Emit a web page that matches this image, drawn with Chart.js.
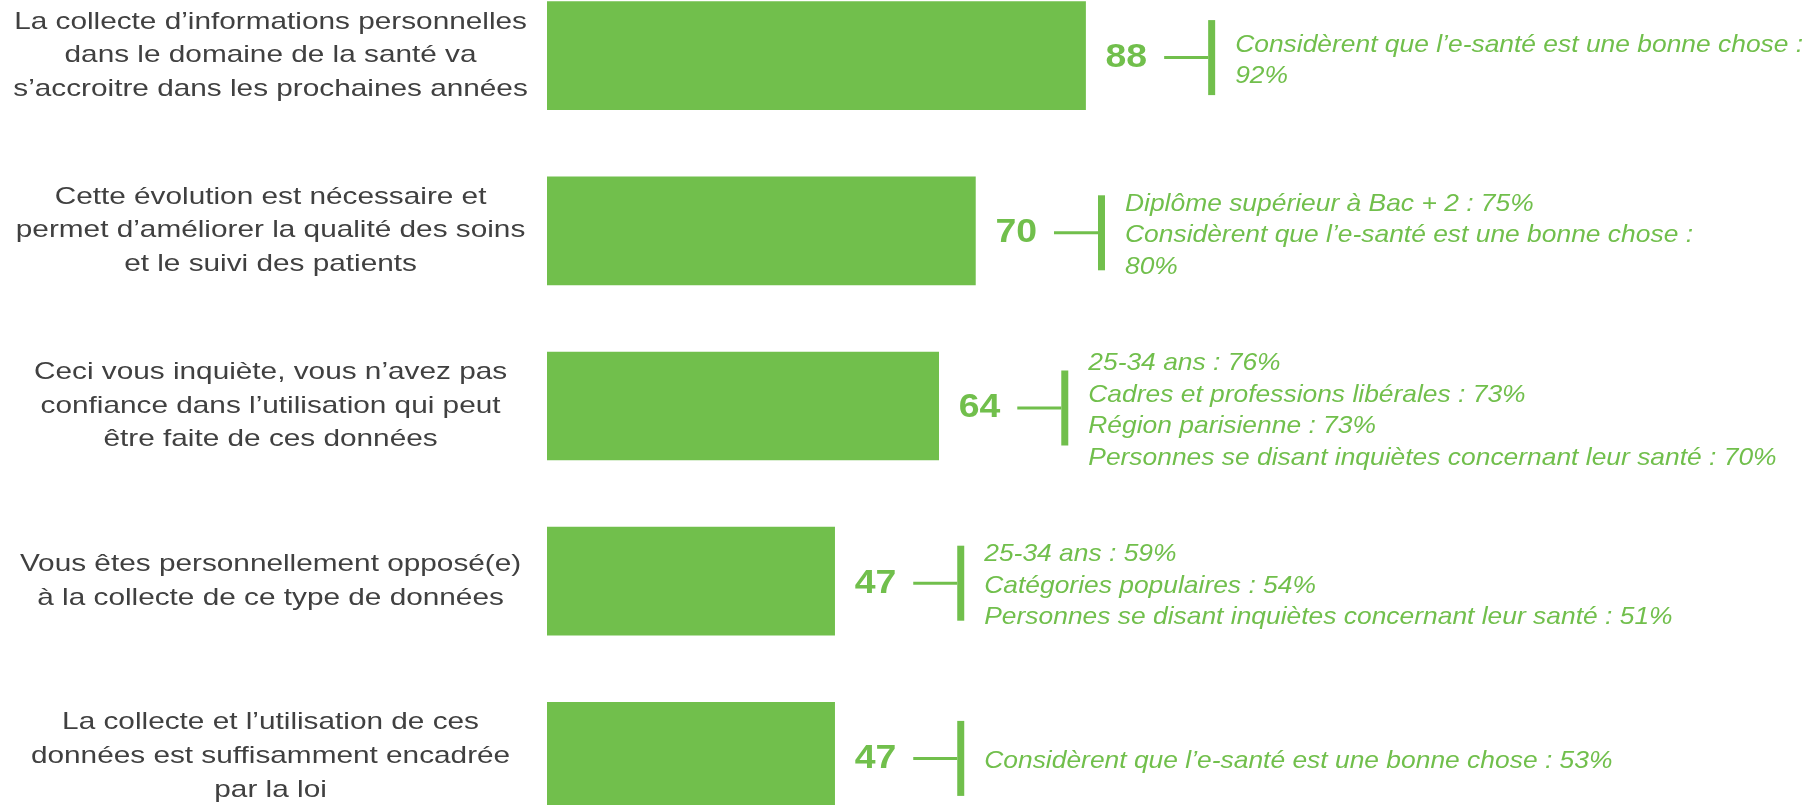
<!DOCTYPE html>
<html lang="fr">
<head>
<meta charset="utf-8">
<script src="https://cdn.jsdelivr.net/npm/chart.js@4.4.1/dist/chart.umd.min.js"></script>
<style>
  html, body { margin: 0; padding: 0; background: #ffffff; overflow: hidden; }
  body { width: 1812px; height: 805px; position: relative; }
  #wrap { position: absolute; left: 0; top: -32px; width: 1812px; height: 876px; }
</style>
</head>
<body>
<div id="wrap"><canvas id="c"></canvas></div>
<script>
const categories = [
  ["La collecte d’informations personnelles", "dans le domaine de la santé va", "s’accroitre dans les prochaines années"],
  ["Cette évolution est nécessaire et", "permet d’améliorer la qualité des soins", "et le suivi des patients"],
  ["Ceci vous inquiète, vous n’avez pas", "confiance dans l’utilisation qui peut", "être faite de ces données"],
  ["Vous êtes personnellement opposé(e)", "à la collecte de ce type de données"],
  ["La collecte et l’utilisation de ces", "données est suffisamment encadrée", "par la loi"]
];
const values = [88, 70, 64, 47, 47];
const details = [
  ["Considèrent que l’e-santé est une bonne chose :", "92%"],
  ["Diplôme supérieur à Bac + 2 : 75%", "Considèrent que l’e-santé est une bonne chose :", "80%"],
  ["25-34 ans : 76%", "Cadres et professions libérales : 73%", "Région parisienne : 73%", "Personnes se disant inquiètes concernant leur santé : 70%"],
  ["25-34 ans : 59%", "Catégories populaires : 54%", "Personnes se disant inquiètes concernant leur santé : 51%"],
  ["Considèrent que l’e-santé est une bonne chose : 53%"]
];

const GREEN = '#71BF4C';
const GRAY = '#404040';
const FONT = '"Liberation Sans", Arial, sans-serif';
const LABEL_STRETCH = 1.24;   // reference text is horizontally wide
const NOTE_STRETCH = 1.1;

function stretchedText(ctx, text, x, y, sx) {
  ctx.save();
  ctx.translate(x, y);
  ctx.scale(sx, 1);
  ctx.fillText(text, 0, 0);
  ctx.restore();
}

const annotate = {
  id: 'annotate',
  afterDatasetsDraw(chart) {
    const ctx = chart.ctx;
    const meta = chart.getDatasetMeta(0);
    ctx.save();
    meta.data.forEach((bar, i) => {
      const x = bar.x, y = bar.y;
      ctx.fillStyle = GREEN;
      ctx.textAlign = 'left';
      ctx.textBaseline = 'middle';
      // value label
      ctx.font = 'bold 34px ' + FONT;
      const label = String(values[i]);
      const nx = x + 20;
      stretchedText(ctx, label, nx, y + 2, NOTE_STRETCH);
      const w = ctx.measureText(label).width * NOTE_STRETCH;
      // connector
      const gy = y + 2;
      const lx0 = nx + w + 17, lx1 = lx0 + 44;
      ctx.strokeStyle = GREEN;
      ctx.lineWidth = 3;
      ctx.beginPath();
      ctx.moveTo(lx0, gy);
      ctx.lineTo(lx1, gy);
      ctx.stroke();
      // bracket
      ctx.fillRect(lx1, gy - 37.5, 7, 75);
      // detail text
      const lines = details[i];
      const lh = 31.5;
      ctx.font = 'italic 24px ' + FONT;
      const tx = lx1 + 7 + 20;
      const startY = y + 5 - (lines.length - 1) * lh / 2;
      lines.forEach((t, k) => stretchedText(ctx, t, tx, startY + k * lh, NOTE_STRETCH));
    });
    ctx.restore();
  }
};

const chart = new Chart(document.getElementById('c'), {
  type: 'bar',
  data: {
    labels: categories,
    datasets: [{
      data: values,
      backgroundColor: GREEN,
      borderWidth: 0,
      barThickness: 108
    }]
  },
  options: {
    indexAxis: 'y',
    responsive: true,
    maintainAspectRatio: false,
    animation: false,
    layout: { padding: { left: 0, right: 653, top: 0, bottom: 0 } },
    plugins: { legend: { display: false }, tooltip: { enabled: false } },
    scales: {
      x: { min: 0, max: 100, display: false },
      y: {
        grid: { display: false, drawTicks: false },
        border: { display: false },
        ticks: {
          autoSkip: false,
          crossAlign: 'center',
          padding: 69,
          color: GRAY,
          font: { family: FONT, size: 24, lineHeight: 1.4 }
        },
        afterFit(scale) {
          scale.width = 547;
          scale.paddingTop = 0;
          scale.paddingBottom = 0;
        }
      }
    }
  },
  plugins: [annotate]
});

// widen the axis labels around their own (library-computed) centre
const yScale = chart.scales.y;
const origDrawLabels = yScale.drawLabels.bind(yScale);
yScale.drawLabels = function (area) {
  const items = this.getLabelItems(area);
  const c = items.length ? items[0].options.translation[0] : 0;
  const ctx = this.ctx;
  ctx.save();
  ctx.translate(c, 0);
  ctx.scale(LABEL_STRETCH, 1);
  ctx.translate(-c, 0);
  origDrawLabels(area);
  ctx.restore();
};
chart.draw();
</script>
</body>
</html>
